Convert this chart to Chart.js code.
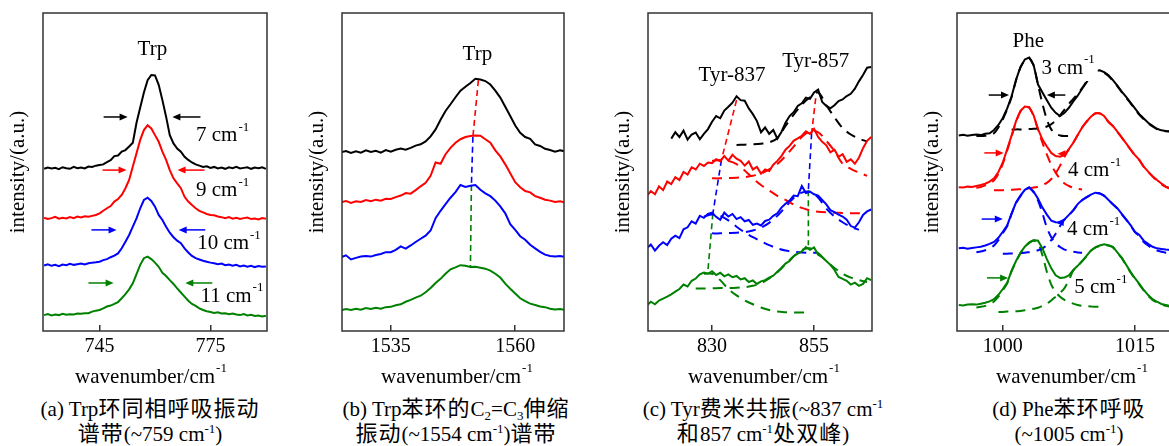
<!DOCTYPE html>
<html lang="zh">
<head>
<meta charset="UTF-8" />
<title>Raman bands</title>
<script src="https://cdn.jsdelivr.net/npm/chart.js@4"></script>
<style>
  body { margin: 0; width: 1169px; height: 446px; overflow: hidden; background: #fff; position: relative; }
  canvas { position: absolute; top: 0; }
  .cap { position: absolute; top: 397px; width: 340px; text-align: center; white-space: nowrap;
         font: 21px/24.5px "Liberation Serif", "Noto Sans CJK SC", serif; color: #000; }
  .cap .zh { font-size: 22px; letter-spacing: 1px; }
  .cap sup { font-size: 13px; vertical-align: 8px; line-height: 0; }
  .cap sub { font-size: 13px; vertical-align: -4px; line-height: 0; }
</style>
</head>
<body>
<canvas id="chartA" width="290" height="395" style="left:0px"></canvas>
<canvas id="chartB" width="288" height="395" style="left:299px"></canvas>
<canvas id="chartC" width="290" height="395" style="left:605px"></canvas>
<canvas id="chartD" width="288" height="395" style="left:914px"></canvas>

<div class="cap" style="left:-20px">(a) Trp<span class="zh">环同相呼吸振动</span><br><span class="zh">谱带</span>(~759 cm<sup>-1</sup>)</div>
<div class="cap" style="left:286px">(b) Trp<span class="zh">苯环的</span>C<sub>2</sub>=C<sub>3</sub><span class="zh">伸缩</span><br><span class="zh">振动</span>(~1554 cm<sup>-1</sup>)<span class="zh">谱带</span></div>
<div class="cap" style="left:593px">(c) Tyr<span class="zh">费米共振</span>(~837 cm<sup>-1</sup><br><span class="zh">和</span>857 cm<sup>-1</sup><span class="zh">处双峰</span>)</div>
<div class="cap" style="left:899px">(d) Phe<span class="zh">苯环呼吸</span><br>(~1005 cm<sup>-1</sup>)</div>

<script>
// ---- (a) Trp ~759 ----
const waveA = [730, 731, 732, 733, 734, 735, 736, 737, 738, 739, 740, 741, 742, 743, 744, 745, 746, 747, 748, 749,
  750, 751, 752, 753, 754, 755, 756, 757, 758, 759, 760, 761, 762, 763, 764, 765, 766, 767, 768, 769,
  770, 771, 772, 773, 774, 775, 776, 777, 778, 779, 780, 781, 782, 783, 784, 785, 786, 787, 788, 789, 790];
const blackA = [51.0, 51.4, 51.1, 51.3, 50.9, 51.5, 51.2, 51.0, 51.6, 51.2,
  51.4, 51.1, 51.7, 51.6, 52.0, 52.2, 52.4, 53.1, 53.7, 55.0,
  55.2, 56.4, 56.9, 58.0, 59.2, 65.5, 70.3, 75.0, 78.9, 80.5,
  80.4, 77.4, 72.6, 67.4, 61.6, 59.0, 57.4, 56.4, 54.8, 53.8,
  53.0, 52.4, 52.0, 51.6, 51.8, 51.3, 51.6, 51.1, 51.4, 51.0,
  51.5, 51.2, 51.6, 51.1, 51.3, 51.5, 51.0, 51.4, 51.2, 51.5, 51.0];
const redA = [35.6, 35.2, 35.5, 35.9, 35.3, 35.6, 35.4, 35.8, 35.5, 36.0,
  35.7, 36.1, 35.9, 36.2, 36.5, 37.0, 37.8, 38.6, 39.3, 40.7,
  41.5, 42.8, 44.9, 47.5, 51.7, 55.9, 60.1, 63.2, 64.7, 63.7,
  61.6, 59.5, 56.4, 53.8, 50.6, 48.0, 46.4, 44.9, 42.2, 40.7,
  39.6, 38.6, 37.8, 37.3, 36.8, 36.5, 36.4, 36.0, 35.8, 35.5,
  35.8, 35.3, 35.6, 35.2, 35.5, 35.7, 35.2, 35.4, 35.1, 35.5, 35.3];
const blueA = [20.6, 21.0, 20.5, 20.8, 20.4, 20.9, 20.7, 21.1, 20.8, 21.0,
  21.2, 20.9, 21.3, 21.5, 21.6, 21.8, 22.3, 22.6, 23.2, 23.7,
  24.4, 26.0, 28.1, 30.2, 32.8, 35.4, 38.6, 41.2, 41.9, 40.9,
  39.1, 36.5, 34.9, 32.8, 30.9, 29.5, 28.4, 27.6, 26.0, 24.7,
  23.6, 22.9, 22.5, 22.1, 21.8, 21.5, 21.3, 21.0, 21.2, 20.7,
  20.9, 20.5, 20.8, 20.3, 20.6, 20.2, 20.5, 20.1, 20.4, 20.2, 20.3];
const greenA = [5.0, 5.3, 4.9, 5.2, 5.0, 5.4, 5.1, 5.3, 5.2, 5.5,
  5.4, 5.6, 5.6, 6.1, 6.4, 6.6, 7.1, 7.7, 8.0, 8.5,
  9.1, 10.3, 11.6, 13.1, 15.0, 17.9, 20.8, 22.9, 23.4, 22.6,
  21.5, 20.2, 18.3, 17.3, 16.0, 14.8, 13.4, 12.1, 10.8, 9.5,
  8.5, 7.9, 7.1, 6.6, 6.2, 6.0, 5.7, 5.9, 5.5, 5.6,
  5.3, 5.5, 5.2, 5.0, 5.3, 4.9, 5.1, 4.7, 4.9, 4.6, 4.8];
const ticksA = [745, 775];

// ---- (b) Trp ~1554 ----
const waveB = [1525, 1526, 1527, 1528, 1529, 1530, 1531, 1532, 1533, 1534, 1535, 1536, 1537, 1538, 1539,
  1540, 1541, 1542, 1543, 1544, 1545, 1546, 1547, 1548, 1549, 1550, 1551, 1552, 1553, 1554,
  1555, 1556, 1557, 1558, 1559, 1560, 1561, 1562, 1563, 1564, 1565, 1566, 1567, 1568, 1569, 1570];
const blackB = [56.2, 56.6, 56.0, 56.5, 56.1, 56.8, 56.3, 56.7, 56.1, 56.9,
  56.4, 57.0, 57.4, 57.0, 57.6, 58.3, 58.7, 59.6, 61.2, 63.4,
  66.4, 69.2, 71.3, 73.5, 75.6, 76.8, 78.0, 79.3, 79.1, 78.6,
  77.5, 75.6, 73.4, 70.5, 67.6, 64.6, 62.3, 61.0, 60.4, 58.7,
  58.2, 57.3, 56.9, 56.4, 56.8, 56.5];
const redB = [40.5, 40.9, 40.3, 40.8, 40.6, 41.2, 40.8, 41.3, 41.0, 41.6,
  41.5, 42.1, 42.6, 43.4, 43.2, 44.3, 45.5, 46.6, 48.8, 53.0,
  52.6, 55.6, 57.6, 59.2, 60.3, 61.0, 61.3, 61.5, 61.4, 60.3,
  59.2, 56.8, 54.9, 52.4, 49.6, 46.8, 45.2, 44.0, 43.6, 42.4,
  41.9, 41.3, 41.0, 40.6, 40.8, 40.4];
const blueB = [23.2, 23.8, 22.5, 23.0, 23.4, 23.6, 23.4, 23.9, 24.2, 24.8,
  24.8, 25.5, 26.6, 25.9, 26.9, 28.0, 29.0, 30.0, 31.6, 35.5,
  37.8, 39.9, 41.9, 43.7, 45.9, 45.3, 45.7, 45.9, 44.4, 43.3,
  42.4, 41.0, 39.2, 37.0, 33.6, 31.8, 29.8, 28.7, 27.1, 26.0,
  24.9, 24.0, 23.6, 23.4, 23.6, 23.3];
const greenB = [6.5, 6.9, 6.6, 7.0, 6.7, 7.2, 6.9, 7.3, 7.0, 7.5,
  7.6, 8.1, 8.4, 9.2, 9.8, 10.5, 11.1, 12.2, 13.5, 15.1,
  16.4, 18.0, 19.4, 20.0, 20.7, 20.5, 20.1, 20.2, 19.9, 19.6,
  19.0, 18.0, 16.8, 14.9, 13.3, 11.8, 10.3, 9.4, 8.6, 8.2,
  7.7, 7.5, 7.0, 6.8, 6.9, 6.6];
const peakBx = [1552.6, 1551.5, 1551.2, 1551.0];
const peakBy = [78.9, 61.1, 45.9, 20.2];
const ticksB = [1535, 1560];

// ---- (c) Tyr doublet ----
const waveC = [814, 815, 816, 817, 818, 819, 820, 821, 822, 823, 824, 825, 826, 827, 828, 829, 830, 831, 832, 833,
  834, 835, 836, 837, 838, 839, 840, 841, 842, 843, 844, 845, 846, 847, 848, 849, 850, 851, 852, 853,
  854, 855, 856, 857, 858, 859, 860, 861, 862, 863, 864, 865, 866, 867, 868, 869];
const blackC = [null, null, null, null, null, null,
  60.5, 62.5, 61.0, 63.0, 60.2, 61.8, 62.4, 60.3, 62.0, 63.5,
  65.8, 67.6, 66.9, 69.3, 70.5, 71.8, 73.8, 72.6, 72.4, 70.0,
  68.2, 66.0, 62.5, 64.0, 62.0, 63.2, 60.5, 62.6, 65.5, 67.6,
  68.8, 70.8, 71.6, 73.4, 73.0, 75.0, 75.9, 72.0, 70.8, 70.0,
  71.0, 72.3, 72.8, 73.9, 74.6, 76.2, 78.5, 80.5, 82.8, 83.0];
const redC = [42.5, 44.0, 43.0, 45.5, 44.3, 47.0, 46.2, 48.4, 47.5, 50.0,
  49.2, 51.5, 50.8, 52.6, 51.9, 53.0, 52.8, 54.0, 53.4, 55.0,
  53.6, 55.4, 54.2, 53.5, 52.0, 53.3, 50.8, 51.6, 49.5, 50.8,
  50.3, 52.3, 53.5, 55.0, 57.0, 58.2, 59.8, 60.6, 61.4, 62.8,
  62.0, 63.6, 61.0, 59.5, 58.4, 56.2, 57.0, 54.8, 55.6, 53.2,
  54.0, 52.6, 54.5, 57.5, 59.8, 61.0];
const blueC = [26.0, 27.2, 25.3, 26.8, 27.9, 27.0, 29.0, 30.0, 29.2, 32.0,
  32.6, 34.5, 33.8, 36.2, 35.6, 36.8, 37.2, 35.9, 35.0, 37.2,
  36.0, 36.8, 35.2, 35.8, 34.5, 34.9, 33.4, 33.8, 33.2, 34.6,
  35.0, 36.2, 37.0, 38.8, 40.0, 41.0, 42.6, 42.4, 45.6, 43.4,
  43.8, 43.0, 42.6, 41.2, 39.8, 38.0, 37.4, 36.6, 36.0, 35.0,
  33.0, 32.5, 34.2, 36.5, 37.6, 38.2];
const greenC = [8.0, 9.2, 8.4, 9.6, 10.2, 10.8, 11.5, 12.4, 13.2, 14.6,
  14.0, 15.8, 16.5, 17.8, 18.4, 18.0, 18.8, 17.6, 18.3, 17.2,
  17.8, 16.9, 17.3, 16.2, 16.6, 15.4, 15.9, 14.8, 15.6, 16.0,
  16.8, 17.4, 18.6, 19.8, 21.2, 22.0, 23.5, 24.3, 25.0, 26.4,
  25.5, 26.3, 24.0, 23.2, 22.0, 20.8, 19.2, 17.0, 16.4, 15.8,
  14.6, 15.2, 14.2, 14.8, 16.6, 16.0];
// fitted components (dashed)
const fitCx = [826, 828, 830, 832, 834, 836, 838, 840, 842, 844, 846, 848, 850, 852, 854, 856, 858, 860, 862, 864, 866, 868];
const fitC857k = [null, null, null, null, null, 58.5, 58.6, 58.7, 58.9, 59.3, 60.6, 64.5, 68.0, 71.2, 73.5, 75.0, 71.0, 67.2, 63.8, 61.8, 60.5, 59.6];
const fitC837r = [null, null, 53.5, 53.8, 53.5, 52.5, 50.5, 48.0, 45.9, 44.2, 42.5, 41.2, 39.8, 38.7, 37.9, 37.5, 37.3, 37.2, 37.1, 37.0, 37.0, 37.0];
const fitC857r = [null, null, 48.0, 48.0, 48.1, 48.2, 48.4, 48.8, 49.5, 50.8, 52.5, 55.0, 58.0, 61.0, 62.8, 62.5, 59.8, 56.6, 52.6, 51.0, 49.8, 48.8];
const fitC837b = [null, 36.0, 36.6, 36.2, 34.8, 32.8, 31.0, 29.5, 28.2, 27.0, 26.0, 25.3, 24.9, 24.7, 24.6, 24.6, null, null, null, null, null, null];
const fitC857b = [null, null, 30.7, 30.7, 30.8, 30.9, 31.1, 31.6, 32.5, 34.0, 36.2, 39.0, 41.8, 43.5, 43.8, 42.0, 38.5, 36.0, 34.2, 32.8, 31.8, null];
const fitC837g = [null, 18.0, 18.0, 16.0, 13.2, 11.2, 9.6, 8.4, 7.4, 6.6, 6.1, 5.9, 5.8, 5.8, 5.8, null, null, null, null, null, null, null];
const fitC857g = [13.4, 13.4, 13.4, 13.5, 13.5, 13.6, 13.8, 14.2, 15.0, 16.5, 18.5, 21.0, 23.5, 25.5, 26.0, 24.5, 22.0, 19.8, 18.0, 16.8, 16.0, 15.4];
const peak837x = [836.0, 832.3, 830.2, 829.0];
const peak837y = [72.6, 53.8, 37.0, 19.2];
const peak857x = [855.4, 854.4, 853.6, 853.6];
const peak857y = [73.2, 62.2, 44.3, 27.0];
const ticksC = [830, 855];

// ---- (d) Phe ~1005 ----
const waveD = [995, 995.5, 996, 996.5, 997, 997.5, 998, 998.5, 999, 999.5,
  1000, 1000.5, 1001, 1001.5, 1002, 1002.5, 1003, 1003.5, 1004, 1004.5,
  1005, 1005.5, 1006, 1006.5, 1007, 1007.5, 1008, 1008.5, 1009, 1009.5,
  1010, 1010.5, 1011, 1011.5, 1012, 1012.5, 1013, 1013.5, 1014, 1014.5,
  1015, 1015.5, 1016, 1016.5, 1017, 1017.5, 1018, 1018.5, 1019, 1019.5, 1020];
const blackD = [61.5, 61.7, 61.4, 61.6, 61.8, 61.6, 62.0, 62.2, 63.2, 64.8,
  67.0, 70.0, 73.8, 79.0, 83.0, 85.4, 86.0, 83.6, 77.5, 75.0,
  72.6, 70.2, 68.6, 67.6, 68.6, 70.2, 72.2, 74.0, 76.2, 78.2,
  80.4, 81.8, 82.0, 81.4, 80.4, 78.9, 77.2, 75.3, 73.6, 71.8,
  70.0, 68.2, 66.8, 65.5, 64.5, 63.6, 63.1, 62.9, 62.8, 62.7, 62.7];
const redD = [45.2, 45.1, 45.4, 45.3, 45.6, 45.9, 46.3, 47.0, 48.0, 50.0,
  53.0, 57.2, 61.5, 66.0, 69.2, 70.6, 70.4, 67.8, 63.5, 60.2,
  58.0, 56.0, 55.0, 54.8, 55.4, 57.2, 59.2, 61.6, 64.0, 65.8,
  67.4, 68.5, 68.5, 67.6, 65.8, 64.5, 62.7, 60.9, 59.0, 57.1,
  55.3, 53.8, 51.7, 50.1, 48.7, 47.5, 46.4, 45.4, 45.0, 44.8, 44.7];
const blueD = [26.0, 26.2, 25.9, 26.1, 26.3, 26.5, 26.9, 27.4, 28.0, 29.3,
  31.2, 33.2, 37.0, 40.4, 42.6, 44.4, 45.2, 43.8, 41.6, 38.8,
  36.6, 34.7, 34.2, 34.1, 35.1, 36.5, 38.0, 39.9, 41.2, 42.1,
  42.9, 43.5, 43.3, 42.6, 41.2, 39.9, 38.6, 36.8, 35.1, 33.3,
  31.2, 30.2, 28.4, 27.4, 26.5, 26.0, 25.8, 25.6, 25.5, 25.4, 25.4];
const greenD = [8.2, 8.0, 8.3, 8.4, 8.3, 8.6, 8.9, 9.3, 10.0, 11.4,
  13.2, 15.2, 19.0, 22.0, 24.6, 26.5, 27.9, 28.6, 28.4, 26.0,
  22.6, 19.7, 17.5, 16.7, 16.8, 17.5, 19.2, 20.5, 22.0, 23.6,
  25.3, 26.3, 26.9, 27.3, 27.0, 26.5, 24.7, 23.1, 20.8, 18.6,
  16.6, 14.8, 12.9, 11.3, 10.0, 9.2, 8.5, 8.2, 7.9, 7.8, 7.7];
// fitted components (dashed), 997..1020 every 0.5
const fitDx = [997, 997.5, 998, 998.5, 999, 999.5, 1000, 1000.5, 1001, 1001.5,
  1002, 1002.5, 1003, 1003.5, 1004, 1004.5, 1005, 1005.5, 1006, 1006.5,
  1007, 1007.5, 1008, 1008.5, 1009, 1009.5, 1010, 1010.5, 1011, 1011.5,
  1012, 1012.5, 1013, 1013.5, 1014, 1014.5, 1015, 1015.5, 1016, 1016.5,
  1017, 1017.5, 1018, 1018.5, 1019, 1019.5, 1020];
const fitD1003k = [61.3, 61.3, 61.4, 61.6, 62.2, 64.0, 66.6, 69.8, 73.6, 78.8,
  82.8, 85.2, 85.8, 83.4, 77.3, 71.5, 66.5, 63.4, 62.0, 61.5,
  61.3, 61.3, 61.3, null, null, null, null, null, null, null,
  null, null, null, null, null, null, null, null, null, null,
  null, null, null, null, null, null, null];
const fitD1011k = [null, null, null, null, null, null, null, null, 63.3, 63.4,
  63.4, 63.4, 63.5, 63.6, 63.7, 63.9, 64.3, 65.0, 66.2, 67.8,
  69.6, 71.4, 73.0, 74.6, 76.4, 78.4, 80.3, 81.6, 81.8, 81.2,
  80.2, 78.7, 77.0, 75.1, 73.4, 71.6, 69.8, 68.0, 66.6, 65.3,
  64.3, 63.5, 63.0, 62.8, 62.7, 62.6, 62.6];
const fitD1003r = [45.0, 45.3, 45.8, 46.4, 47.4, 49.4, 52.6, 56.8, 61.2, 65.8,
  69.0, 70.4, 70.2, 67.6, 63.2, 59.2, 55.5, 52.2, 49.8, 47.8,
  46.4, 45.6, 45.0, 44.7, 44.5, null, null, null, null, null,
  null, null, null, null, null, null, null, null, null, null,
  null, null, null, null, null, null, null];
const fitD1011r = [null, null, null, null, 44.3, 44.3, 44.3, 44.4, 44.4, 44.5,
  44.6, 44.7, 44.9, 45.1, 45.4, 45.9, 46.6, 47.8, 49.6, 52.0,
  54.8, 57.2, 59.2, 61.6, 64.0, 65.8, 67.4, 68.4, 68.4, 67.5,
  65.7, 64.4, 62.6, 60.8, 58.9, 57.0, 55.2, 53.7, 51.6, 50.0,
  48.6, 47.3, 46.2, 45.3, 44.7, 44.3, 44.0];
const fitD1003b = [24.8, 25.0, 25.4, 26.0, 26.9, 28.6, 30.8, 33.0, 36.8, 40.2,
  42.4, 44.2, 45.0, 43.6, 41.0, 37.0, 32.5, 29.5, 27.6, 26.4,
  25.6, 25.2, 24.9, 24.7, 24.6, null, null, null, null, null,
  null, null, null, null, null, null, null, null, null, null,
  null, null, null, null, null, null, null];
const fitD1011b = [null, null, null, null, null, null, 24.3, 24.3, 24.4, 24.4,
  24.5, 24.6, 24.8, 25.0, 25.4, 26.0, 27.0, 28.6, 30.6, 33.0,
  35.0, 36.4, 37.9, 39.8, 41.1, 42.0, 42.8, 43.4, 43.2, 42.5,
  41.1, 39.8, 38.5, 36.7, 35.0, 33.2, 31.1, 29.8, 28.0, 26.9,
  25.9, 25.3, 24.9, 24.6, 24.5, 24.4, 24.4];
const fitD1003g = [7.4, 7.6, 7.9, 8.4, 9.3, 10.8, 12.8, 15.0, 18.8, 21.8,
  24.4, 26.3, 27.7, 28.4, 27.6, 23.8, 18.6, 14.6, 12.2, 10.8,
  9.8, 9.1, 8.6, 8.2, 7.9, 7.8, 7.7, 7.6, 7.6, null,
  null, null, null, null, null, null, null, null, null, null,
  null, null, null, null, null, null, null];
const fitD1011g = [null, null, null, null, null, 6.0, 6.0, 6.1, 6.1, 6.2,
  6.3, 6.5, 6.7, 7.0, 7.3, 7.9, 8.6, 9.6, 10.8, 12.0,
  13.5, 16.0, 19.0, 20.4, 21.9, 23.5, 25.2, 26.2, 26.8, 27.1,
  26.8, 26.3, 24.5, 22.9, 20.6, 18.4, 16.4, 14.6, 12.7, 11.1,
  9.8, 9.0, 8.3, 7.9, 7.6, 7.4, 7.3];
const ticksD = [1000, 1015];

const K = '#000000', R = '#ff0000', B = '#0000ff', G = '#008000';
const SERIF = '"Liberation Serif", "Times New Roman", serif';
Chart.defaults.font.family = SERIF;
Chart.defaults.color = '#000';

const pts = (xs, ys) => xs.map((x, i) => ({ x: x, y: ys[i] }));
const solid = (xs, ys, color) => ({ data: pts(xs, ys), borderColor: color, borderWidth: 2, pointRadius: 0, tension: 0 });
const fit = (xs, ys, color, t) => ({ data: pts(xs, ys), borderColor: color, borderWidth: 2, borderDash: [10, 7], pointRadius: 0, tension: t });
const track = (xs, ys) => ({
  data: pts(xs, ys), borderColor: R, borderWidth: 1.6, borderDash: [6, 4], pointRadius: 0, tension: 0,
  segment: { borderColor: c => [R, B, G][c.p0DataIndex] }
});

// text with a raised "-1"
function supText(ctx, txt, sup, x, y, align, bg) {
  ctx.font = '21px ' + SERIF;
  const w1 = ctx.measureText(txt).width;
  ctx.font = '13px ' + SERIF;
  const w2 = sup ? ctx.measureText(sup).width + 1 : 0;
  const x0 = align === 'center' ? x - (w1 + w2) / 2 : x;
  if (bg) {
    ctx.fillStyle = '#fff';
    ctx.fillRect(x0 - 2, y - 14, w1 + w2 + 5, 27);
  }
  ctx.fillStyle = '#000';
  ctx.textAlign = 'left';
  ctx.textBaseline = 'middle';
  ctx.font = '21px ' + SERIF;
  ctx.fillText(txt, x0, y);
  if (sup) {
    ctx.font = '13px ' + SERIF;
    ctx.fillText(sup, x0 + w1 + 1, y - 8);
  }
}

function notesFor(notes) {
  return {
    id: 'notes',
    afterDatasetsDraw(chart) {
      const { ctx, chartArea: a, scales: { x, y } } = chart;
      ctx.save();
      ctx.strokeStyle = '#333';
      ctx.lineWidth = 1.5;
      ctx.strokeRect(a.left, a.top, a.right - a.left, a.bottom - a.top);
      notes.arrows.forEach(ar => {
        const x1 = x.getPixelForValue(ar.from), x2 = x.getPixelForValue(ar.to), py = y.getPixelForValue(ar.y);
        const d = Math.sign(x2 - x1);
        ctx.strokeStyle = ar.color;
        ctx.fillStyle = ar.color;
        ctx.lineWidth = 1.5;
        ctx.beginPath();
        ctx.moveTo(x1, py);
        ctx.lineTo(x2 - d * 6, py);
        ctx.stroke();
        ctx.beginPath();
        ctx.moveTo(x2, py);
        ctx.lineTo(x2 - d * 8, py - 3.5);
        ctx.lineTo(x2 - d * 8, py + 3.5);
        ctx.closePath();
        ctx.fill();
      });
      notes.labels.forEach(l => {
        supText(ctx, l.text, l.sup, x.getPixelForValue(l.x), y.getPixelForValue(l.y), l.align, l.bg);
      });
      supText(ctx, 'wavenumber/cm', '-1', (a.left + a.right) / 2 + notes.titleShift, a.bottom + 46, 'center', false);
      ctx.restore();
    }
  };
}

function makeChart(id, range, tickVals, datasets, notes) {
  return new Chart(document.getElementById(id), {
    type: 'line',
    data: { datasets: datasets },
    options: {
      responsive: false,
      animation: false,
      events: [],
      layout: { padding: { top: 13, right: 23, left: 0, bottom: 0 } },
      plugins: { legend: { display: false }, tooltip: { enabled: false } },
      scales: {
        x: {
          type: 'linear', min: range[0], max: range[1],
          afterBuildTicks: s => { s.ticks = tickVals.map(v => ({ value: v })); },
          afterFit: s => { s.height = 64; },
          border: { display: false },
          grid: { drawOnChartArea: false, tickLength: -6, color: '#333', lineWidth: 1.5 },
          ticks: { padding: 10, color: '#000', font: { size: 20 }, maxRotation: 0, callback: v => String(v) }
        },
        y: {
          min: 0, max: 100,
          afterFit: s => { s.width = 43; },
          border: { display: false },
          grid: { display: false },
          ticks: { display: false },
          title: { display: true, text: 'intensity/(a.u.)', color: '#000', font: { size: 21 }, padding: { top: 6, bottom: 0 } }
        }
      }
    },
    plugins: [notesFor(notes)]
  });
}

makeChart('chartA', [729.7, 790.3], ticksA, [
  solid(waveA, blackA, K), solid(waveA, redA, R), solid(waveA, blueA, B), solid(waveA, greenA, G)
], {
  titleShift: -4,
  labels: [
    { text: 'Trp', sup: '', x: 759.3, y: 88.4, align: 'center' },
    { text: '7 cm', sup: '-1', x: 771.1, y: 61.6, align: 'left' },
    { text: '9 cm', sup: '-1', x: 771.1, y: 44.3, align: 'left' },
    { text: '10 cm', sup: '-1', x: 771.4, y: 27.4, align: 'left' },
    { text: '11 cm', sup: '-1', x: 772.3, y: 11.0, align: 'left' }
  ],
  arrows: [
    { from: 746.1, to: 752.6, y: 67.3, color: K }, { from: 772.3, to: 764.7, y: 67.3, color: K },
    { from: 745.8, to: 752.3, y: 50.6, color: R }, { from: 773.4, to: 766.1, y: 50.6, color: R },
    { from: 742.8, to: 749.6, y: 31.8, color: B }, { from: 773.6, to: 766.4, y: 31.8, color: B },
    { from: 742.0, to: 748.8, y: 15.1, color: G }, { from: 775.5, to: 768.2, y: 15.1, color: G }
  ]
});

makeChart('chartB', [1525.2, 1569.8], ticksB, [
  solid(waveB, blackB, K), solid(waveB, redB, R), solid(waveB, blueB, B), solid(waveB, greenB, G),
  track(peakBx, peakBy)
], {
  titleShift: 4,
  labels: [{ text: 'Trp', sup: '', x: 1552.4, y: 86.8, align: 'center' }],
  arrows: []
});

makeChart('chartC', [814.3, 869.2], ticksC, [
  solid(waveC, blackC, K), solid(waveC, redC, R), solid(waveC, blueC, B), solid(waveC, greenC, G),
  fit(fitCx, fitC857k, K, 0.3),
  fit(fitCx, fitC837r, R, 0.3), fit(fitCx, fitC857r, R, 0.3),
  fit(fitCx, fitC837b, B, 0.3), fit(fitCx, fitC857b, B, 0.3),
  fit(fitCx, fitC837g, G, 0.3), fit(fitCx, fitC857g, G, 0.3),
  track(peak837x, peak837y), track(peak857x, peak857y)
], {
  titleShift: 4,
  labels: [
    { text: 'Tyr-837', sup: '', x: 834.9, y: 80.4, align: 'center' },
    { text: 'Tyr-857', sup: '', x: 855.4, y: 84.6, align: 'center' }
  ],
  arrows: []
});

makeChart('chartD', [994.8, 1020], ticksD, [
  solid(waveD, blackD, K), solid(waveD, redD, R), solid(waveD, blueD, B), solid(waveD, greenD, G),
  fit(fitDx, fitD1003k, K, 0.3), fit(fitDx, fitD1011k, K, 0.3),
  fit(fitDx, fitD1003r, R, 0.3), fit(fitDx, fitD1011r, R, 0.3),
  fit(fitDx, fitD1003b, B, 0.3), fit(fitDx, fitD1011b, B, 0.3),
  fit(fitDx, fitD1003g, G, 0.3), fit(fitDx, fitD1011g, G, 0.3)
], {
  titleShift: 4,
  labels: [
    { text: 'Phe', sup: '', x: 1002.9, y: 90.9, align: 'center' },
    { text: '3 cm', sup: '-1', x: 1004.4, y: 82.7, align: 'left', bg: true },
    { text: '4 cm', sup: '-1', x: 1007.4, y: 50.6, align: 'left' },
    { text: '4 cm', sup: '-1', x: 1007.3, y: 31.8, align: 'left' },
    { text: '5 cm', sup: '-1', x: 1008.1, y: 13.8, align: 'left' }
  ],
  arrows: [
    { from: 998.4, to: 1000.7, y: 74.2, color: K }, { from: 1007.1, to: 1005.0, y: 74.2, color: K },
    { from: 997.9, to: 1000.1, y: 56.0, color: R }, { from: 1007.3, to: 1006.2, y: 55.7, color: R },
    { from: 997.6, to: 1000.0, y: 35.2, color: B }, { from: 1006.9, to: 1006.0, y: 34.1, color: B },
    { from: 998.2, to: 1000.6, y: 16.7, color: G }
  ]
});
</script>
</body>
</html>
